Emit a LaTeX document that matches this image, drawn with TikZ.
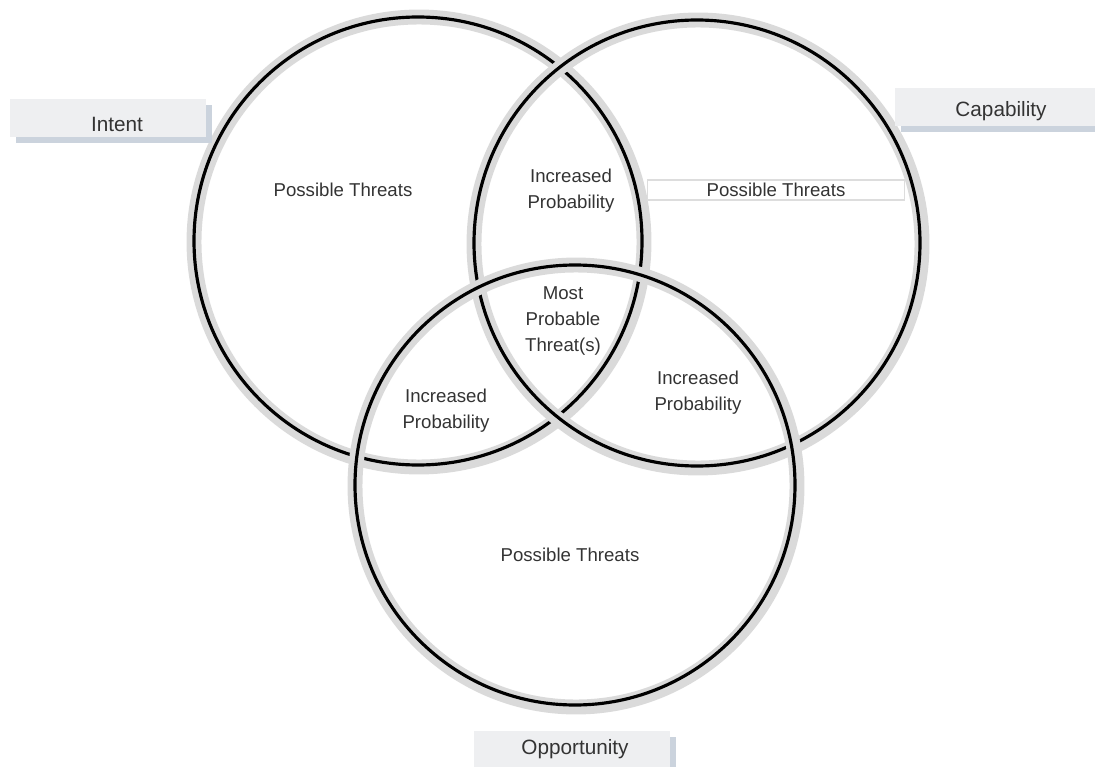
\documentclass[tikz,border=0pt]{standalone}
\usepackage{fontspec}
\setmainfont{Liberation Sans}
\usetikzlibrary{shadows}

\definecolor{halogray}{HTML}{DADADA}
\definecolor{tagfill}{HTML}{EEEFF1}
\definecolor{tagshade}{HTML}{CBD3DD}
\definecolor{inkgray}{HTML}{333333}
\definecolor{framegray}{HTML}{DDDDDD}

\tikzset{
  halo/.style={draw=halogray, line width=8.5pt},
  ring/.style={draw=black, line width=1.8pt},
  zone/.style={text=inkgray, align=center, font=\fontsize{10.6}{14.8}\selectfont},
  tag/.style={fill=tagfill, inner sep=0pt, minimum width=3.94cm, minimum height=0.76cm,
    drop shadow={fill=tagshade, opacity=1, shadow xshift=0.12cm, shadow yshift=-0.12cm}},
  tagtext/.style={text=inkgray, font=\fontsize{11.8}{14}\selectfont}
}

\begin{document}
\begin{tikzpicture}[x=0.02cm, y=-0.02cm]
    \useasboundingbox (0,0) rectangle (1095,767);
    % the three sets: x/y/radius
    \def\sets{418/241/224, 697/243/223, 575/485/220}
    \foreach \cx/\cy/\r in \sets{
        \draw[halo] (\cx+1,\cy+1) circle[radius=\r+1];
        \draw[ring] (\cx,\cy) circle[radius=\r];
    }

    % label tags
    \node[tag] (intentbox) at (108,118) {};
    \node[tagtext] (intent) at (117,124) {Intent};
    \node[tag, minimum width=4.2cm] (capabilitybox) at (1000,107) {};
    \node[tagtext] (capability) at (1001,111) {Capability};
    \node[tag] (opportunitybox) at (572,750) {};
    \node[tagtext] (opportunity) at (575,749) {Opportunity};

    % region texts
    \node[zone] (threatsi) at (343,190) {Possible Threats};
    \node[zone, draw=framegray, line width=0.6pt, minimum width=5.14cm, minimum height=0.4cm, inner sep=0pt]
        (threatsc) at (776,190) {Possible Threats};
    \node[zone] (threatso) at (570,555) {Possible Threats};
    \node[zone] (probic) at (571,191) {Increased\\Probability};
    \node[zone] (probio) at (446,411) {Increased\\Probability};
    \node[zone] (probco) at (698,393) {Increased\\Probability};
    \node[zone] (most) at (563,321) {Most\\Probable\\Threat(s)};
\end{tikzpicture}
\end{document}
